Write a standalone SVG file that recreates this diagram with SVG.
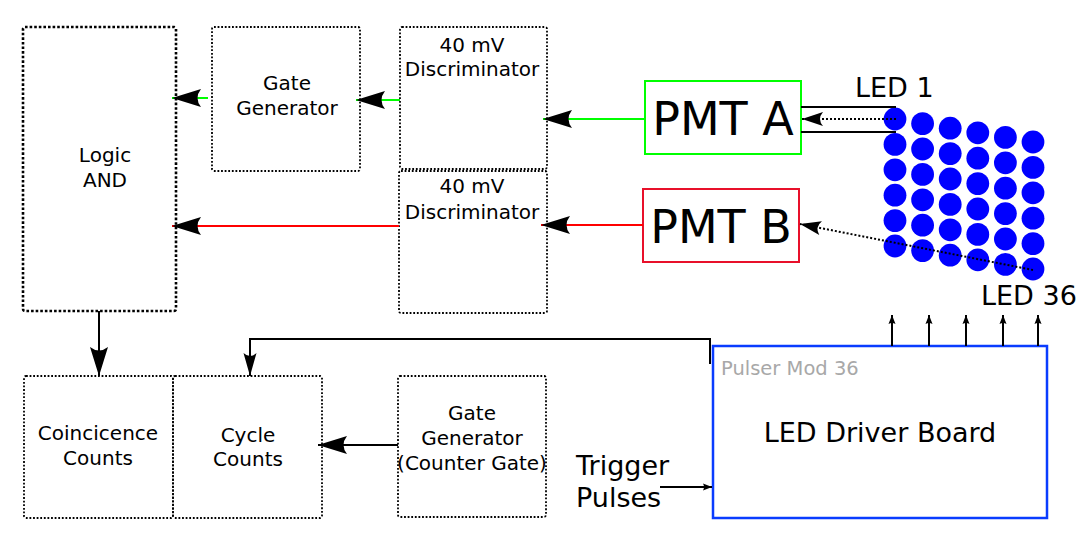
<svg xmlns="http://www.w3.org/2000/svg" width="1087" height="558" viewBox="0 0 1087 558">
<style>
text{font-family:"DejaVu Sans","Liberation Sans",sans-serif;fill:#000}
.s{font-size:20px;text-anchor:middle}
.m{font-size:27px}
.big{font-size:46px;text-anchor:middle}
.dot{fill:none;stroke:#000;stroke-width:1.8;stroke-dasharray:1.8 1.8}
.ln{fill:none;stroke-width:2}
.k{stroke:#000}
.g{stroke:#00ff00}
.r{stroke:#ff0000}
.dl{stroke-dasharray:2 2}
.led{fill:#0000ff}
</style>
<defs>
<marker id="aL" markerUnits="userSpaceOnUse" viewBox="-31 -10 32 20" refX="0" refY="0" markerWidth="32" markerHeight="20" orient="auto" overflow="visible">
<path d="M0,0 L-29,-9 Q-22,0 -29,9 Z" fill="#000"/>
</marker>
<marker id="aM" markerUnits="userSpaceOnUse" viewBox="-25 -8 26 16" refX="0" refY="0" markerWidth="26" markerHeight="16" orient="auto" overflow="visible">
<path d="M0,0 L-23,-6.5 Q-17,0 -23,6.5 Z" fill="#000"/>
</marker>
<marker id="aD" markerUnits="userSpaceOnUse" viewBox="-22 -8 23 16" refX="0" refY="0" markerWidth="23" markerHeight="16" orient="auto" overflow="visible">
<path d="M0,0 L-21,-7 Q-15,0 -21,7 Z" fill="#000"/>
</marker>
<marker id="aS" markerUnits="userSpaceOnUse" viewBox="-10 -5 11 10" refX="0" refY="0" markerWidth="11" markerHeight="10" orient="auto" overflow="visible">
<path d="M0,0 L-9,-3.5 Q-7,0 -9,3.5 Z" fill="#000"/>
</marker>
</defs>

<g id="logic-and">
<rect x="23" y="27" width="153" height="284" rx="2" fill="none" stroke="#000" stroke-width="2.6" stroke-dasharray="2.6 2"/>
<text class="s" x="105" y="162">Logic</text>
<text class="s" x="105" y="187">AND</text>
</g>
<g id="gate-generator">
<rect class="dot" x="212" y="27" width="148" height="144" rx="2"/>
<text class="s" x="287" y="90">Gate</text>
<text class="s" x="287" y="115">Generator</text>
</g>
<g id="discriminator-a">
<rect class="dot" x="400" y="27" width="147" height="142" rx="2"/>
<text class="s" x="472" y="52">40 mV</text>
<text class="s" x="472" y="76">Discriminator</text>
</g>
<g id="discriminator-b">
<rect class="dot" x="399" y="171" width="148" height="142" rx="2"/>
<text class="s" x="472" y="193">40 mV</text>
<text class="s" x="472" y="219">Discriminator</text>
</g>
<g id="pmt-a">
<rect x="645" y="81" width="156" height="73" fill="none" stroke="#00ff00" stroke-width="2"/>
<text class="big" x="723" y="135">PMT A</text>
</g>
<g id="pmt-b">
<rect x="643" y="189" width="156" height="73" fill="none" stroke="#e8102a" stroke-width="2"/>
<text class="big" x="721" y="243">PMT B</text>
</g>
<g id="coincidence-counts">
<rect class="dot" x="24" y="376" width="149" height="142" rx="2"/>
<text class="s" x="98" y="440">Coincicence</text>
<text class="s" x="98" y="465">Counts</text>
</g>
<g id="cycle-counts">
<rect class="dot" x="173" y="376" width="149" height="142" rx="2"/>
<text class="s" x="248" y="442">Cycle</text>
<text class="s" x="248" y="466">Counts</text>
</g>
<g id="counter-gate">
<rect class="dot" x="398" y="376" width="148" height="141" rx="2"/>
<text class="s" x="472" y="420">Gate</text>
<text class="s" x="472" y="445">Generator</text>
<text class="s" x="472" y="470">(Counter Gate)</text>
</g>
<g id="led-driver-board">
<rect x="713" y="346" width="334" height="172" fill="none" stroke="#0a3cff" stroke-width="2.5"/>
<text x="721" y="375" style="font-size:19.5px;fill:#a8a8a8">Pulser Mod 36</text>
<text class="m" x="880" y="442" text-anchor="middle">LED Driver Board</text>
</g>
<g id="trigger-label">
<text class="m" x="576" y="475">Trigger</text>
<text class="m" x="576" y="507">Pulses</text>
</g>
<g id="led-array">
<text class="m" x="855" y="97">LED 1</text>
<text class="m" x="981" y="305">LED 36</text>
<g class="led">
<circle cx="895" cy="119" r="11.4"/><circle cx="895" cy="144.4" r="11.4"/><circle cx="895" cy="169.8" r="11.4"/><circle cx="895" cy="195.2" r="11.4"/><circle cx="895" cy="220.6" r="11.4"/><circle cx="895" cy="246" r="11.4"/>
<circle cx="922.6" cy="123.6" r="11.4"/><circle cx="922.6" cy="149" r="11.4"/><circle cx="922.6" cy="174.4" r="11.4"/><circle cx="922.6" cy="199.8" r="11.4"/><circle cx="922.6" cy="225.2" r="11.4"/><circle cx="922.6" cy="250.6" r="11.4"/>
<circle cx="950.2" cy="128.2" r="11.4"/><circle cx="950.2" cy="153.6" r="11.4"/><circle cx="950.2" cy="179" r="11.4"/><circle cx="950.2" cy="204.4" r="11.4"/><circle cx="950.2" cy="229.8" r="11.4"/><circle cx="950.2" cy="255.2" r="11.4"/>
<circle cx="977.8" cy="132.8" r="11.4"/><circle cx="977.8" cy="158.2" r="11.4"/><circle cx="977.8" cy="183.6" r="11.4"/><circle cx="977.8" cy="209" r="11.4"/><circle cx="977.8" cy="234.4" r="11.4"/><circle cx="977.8" cy="259.8" r="11.4"/>
<circle cx="1005.4" cy="137.4" r="11.4"/><circle cx="1005.4" cy="162.8" r="11.4"/><circle cx="1005.4" cy="188.2" r="11.4"/><circle cx="1005.4" cy="213.6" r="11.4"/><circle cx="1005.4" cy="239" r="11.4"/><circle cx="1005.4" cy="264.4" r="11.4"/>
<circle cx="1033" cy="142" r="11.4"/><circle cx="1033" cy="167.4" r="11.4"/><circle cx="1033" cy="192.8" r="11.4"/><circle cx="1033" cy="218.2" r="11.4"/><circle cx="1033" cy="243.6" r="11.4"/><circle cx="1033" cy="269" r="11.4"/>
</g>
</g>

<g id="connectors">
<path class="ln g" d="M208,98 H172" marker-end="url(#aL)"/>
<path class="ln g" d="M400,100 H356" marker-end="url(#aL)"/>
<path class="ln g" d="M645,119 H543" marker-end="url(#aL)"/>
<path class="ln r" d="M643,225 H541" marker-end="url(#aL)"/>
<path class="ln r" d="M399,226 H172" marker-end="url(#aL)"/>
<path class="ln k" d="M99,311 V376" marker-end="url(#aL)"/>
<path class="ln k" d="M710,364 V339 H250 V376" marker-end="url(#aM)"/>
<path class="ln k" d="M398,445 H318" marker-end="url(#aL)"/>
<path class="ln k" d="M801,107 H896 M801,132 H896"/>
<path class="ln k dl" d="M896,119 H802" marker-end="url(#aD)"/>
<path class="ln k dl" d="M1033,270 L800,224" marker-end="url(#aD)"/>
<path class="ln k" d="M660,487 H712" marker-end="url(#aS)"/>
<path class="ln k" d="M892,346 V315" marker-end="url(#aS)"/>
<path class="ln k" d="M929,346 V315" marker-end="url(#aS)"/>
<path class="ln k" d="M966,346 V315" marker-end="url(#aS)"/>
<path class="ln k" d="M1003,346 V315" marker-end="url(#aS)"/>
<path class="ln k" d="M1038,346 V315" marker-end="url(#aS)"/>
</g>
</svg>
